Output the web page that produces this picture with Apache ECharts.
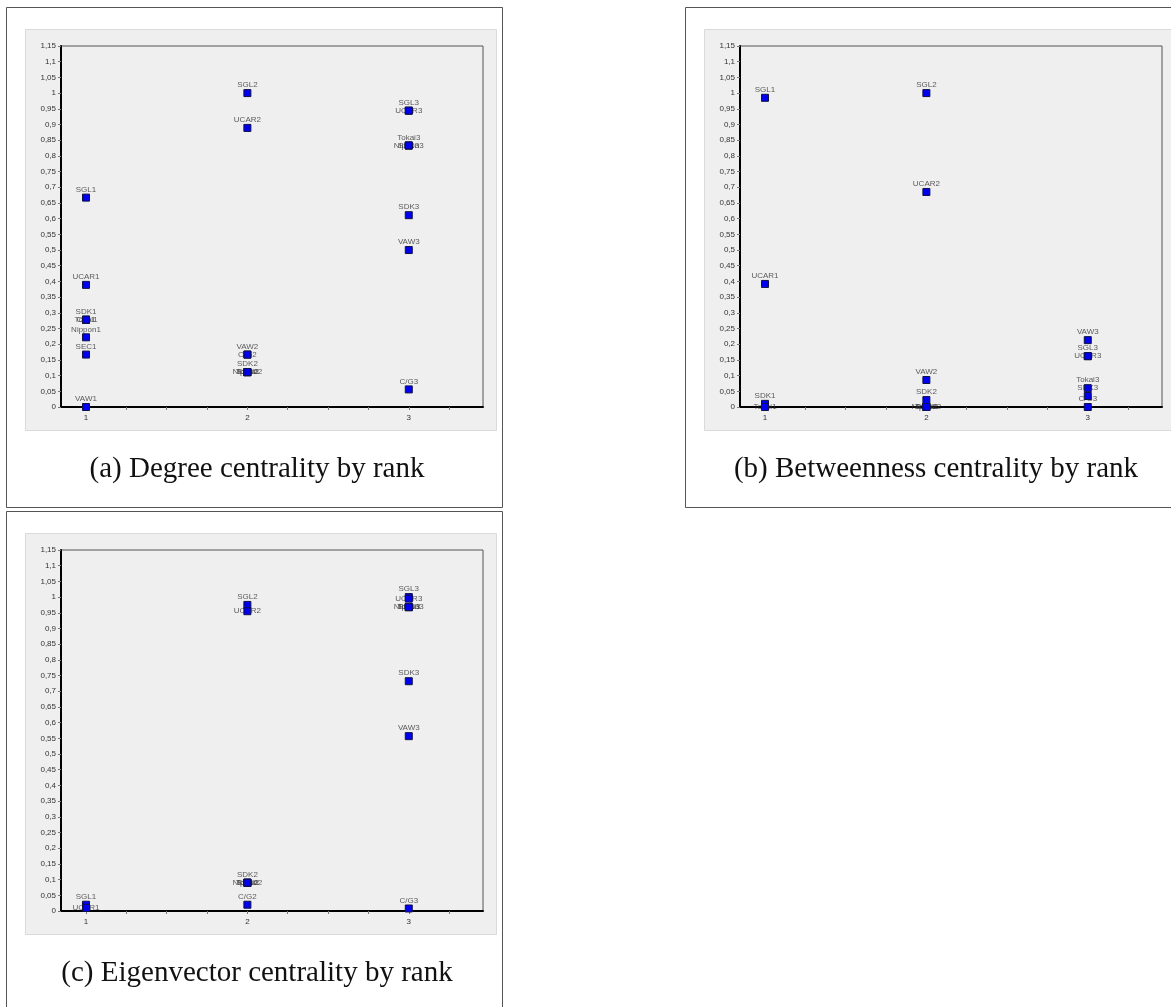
<!DOCTYPE html>
<html>
<head>
<meta charset="utf-8">
<title>Centrality by rank</title>
<script src="https://cdn.jsdelivr.net/npm/echarts@6/dist/echarts.min.js"></script>
<style>
  html, body { margin: 0; padding: 0; background: #fff; }
  #main { width: 1171px; height: 1007px; }
</style>
</head>
<body>
<div id="main"></div>
<script>
// axis ticks
var rankLabels = [1, 2, 3];
var rankTicks = [1, 1.25, 1.5, 1.75, 2, 2.25, 2.5, 2.75, 3, 3.25];

// (a) degree centrality
var degreeNames1 = ['SGL1', 'UCAR1', 'SDK1', 'Tokai1', 'C/G1', 'Nippon1', 'SEC1', 'VAW1'];
var degreeValues1 = [0.667, 0.389, 0.278, 0.278, 0.278, 0.222, 0.167, 0];
var degreeNames2 = ['SGL2', 'UCAR2', 'VAW2', 'C/G2', 'SDK2', 'Nippon2', 'Tokai2', 'SEC2'];
var degreeValues2 = [1, 0.889, 0.167, 0.167, 0.111, 0.111, 0.111, 0.111];
var degreeNames3 = ['SGL3', 'UCAR3', 'Tokai3', 'Nippon3', 'SEC3', 'SDK3', 'VAW3', 'C/G3'];
var degreeValues3 = [0.944, 0.944, 0.833, 0.833, 0.833, 0.611, 0.5, 0.056];

// (b) betweenness centrality
var betweenNames1 = ['SGL1', 'UCAR1', 'SDK1', 'Tokai1'];
var betweenValues1 = [0.985, 0.392, 0.01, 0];
var betweenNames2 = ['SGL2', 'UCAR2', 'VAW2', 'SDK2', 'Nippon2', 'Tokai2', 'SEC2'];
var betweenValues2 = [1, 0.685, 0.086, 0.022, 0, 0, 0];
var betweenNames3 = ['VAW3', 'SGL3', 'UCAR3', 'Tokai3', 'SDK3', 'C/G3'];
var betweenValues3 = [0.213, 0.162, 0.162, 0.06, 0.035, 0];

// (c) eigenvector centrality
var eigenNames1 = ['SGL1', 'UCAR1'];
var eigenValues1 = [0.02, 0.01];
var eigenNames2 = ['SGL2', 'UCAR2', 'SDK2', 'Nippon2', 'Tokai2', 'SEC2', 'C/G2'];
var eigenValues2 = [0.975, 0.955, 0.09, 0.09, 0.09, 0.09, 0.02];
var eigenNames3 = ['SGL3', 'UCAR3', 'Tokai3', 'Nippon3', 'SEC3', 'SDK3', 'VAW3', 'C/G3'];
var eigenValues3 = [1, 0.995, 0.968, 0.968, 0.968, 0.732, 0.557, 0.008];

var captions = [
    '(a) Degree centrality by rank',
    '(b) Betweenness centrality by rank',
    '(c) Eigenvector centrality by rank'
];

// label goes above the square, unless it would sit on a label already placed
function buildPoints(rank, names, values) {
    var order = values.map(function (v, i) { return i; });
    order.sort(function (a, b) { return values[b] - values[a]; });
    var placed = [];
    return order.map(function (i) {
        var v = values[i];
        var pos = 'top';
        var ly = v + 0.0255;
        var hit = placed.some(function (p) { return Math.abs(p - ly) < 0.024; });
        if (hit) { pos = 'inside'; ly = v; }
        placed.push(ly);
        return { value: [rank, v], name: names[i], label: { position: pos } };
    });
}

var panels = [
    { dx: 0, dy: 0, ranks: [[degreeNames1, degreeValues1], [degreeNames2, degreeValues2], [degreeNames3, degreeValues3]] },
    { dx: 679, dy: 0, ranks: [[betweenNames1, betweenValues1], [betweenNames2, betweenValues2], [betweenNames3, betweenValues3]] },
    { dx: 0, dy: 504, ranks: [[eigenNames1, eigenValues1], [eigenNames2, eigenValues2], [eigenNames3, eigenValues3]] }
];

var chart = echarts.init(document.getElementById('main'));

var grids = [], xAxes = [], yAxes = [], series = [], graphics = [];

panels.forEach(function (p, k) {
    // white box + grey chart background + caption
    graphics.push({
        type: 'rect', z: -20, silent: true,
        shape: { x: 6.5 + p.dx, y: 7.5 + p.dy, width: 496, height: 500 },
        style: { fill: '#fff', stroke: '#555', lineWidth: 1 }
    });
    graphics.push({
        type: 'rect', z: -19, silent: true,
        shape: { x: 25.5 + p.dx, y: 29.5 + p.dy, width: 471, height: 401 },
        style: { fill: '#efefef', stroke: '#dadada', lineWidth: 1 }
    });
    graphics.push({
        type: 'text', silent: true,
        x: 257 + p.dx, y: 469 + p.dy,
        style: {
            text: captions[k],
            fontFamily: 'Liberation Serif',
            fontSize: 29,
            fill: '#111',
            align: 'center',
            verticalAlign: 'middle'
        }
    });

    grids.push({
        left: 61 + p.dx, top: 46 + p.dy, width: 422, height: 361,
        show: true, backgroundColor: '#efefef', borderColor: '#555', borderWidth: 1
    });
    xAxes.push({
        gridIndex: k, type: 'value', min: 0.845, max: 3.46,
        axisLine: { onZero: false, lineStyle: { color: '#000', width: 2 } },
        axisTick: { show: true, length: 3, customValues: rankTicks, lineStyle: { color: '#777' } },
        axisLabel: { customValues: rankLabels, color: '#333', fontSize: 8, fontFamily: 'Liberation Sans', margin: 7 },
        splitLine: { show: false }
    });
    yAxes.push({
        gridIndex: k, type: 'value', min: 0, max: 1.15, interval: 0.05,
        axisLine: { show: true, onZero: false, lineStyle: { color: '#000', width: 2 } },
        axisTick: { show: true, length: 3, lineStyle: { color: '#777' } },
        axisLabel: {
            color: '#333', fontSize: 8, fontFamily: 'Liberation Sans', margin: 5,
            formatter: function (v) { return String(Math.round(v * 100) / 100).replace('.', ','); }
        },
        splitLine: { show: false }
    });

    var pts = [];
    p.ranks.forEach(function (r, j) {
        pts = pts.concat(buildPoints(rankLabels[j], r[0], r[1]));
    });

    // labels first (under the squares)
    series.push({
        type: 'scatter', xAxisIndex: k, yAxisIndex: k, z: 2, silent: true,
        symbol: 'rect', symbolSize: 7,
        itemStyle: { color: 'rgba(0,0,0,0)' },
        label: {
            show: true, formatter: '{b}', distance: 0,
            color: '#333', fontSize: 8, fontFamily: 'Liberation Sans', lineHeight: 9
        },
        data: pts
    });
    // blue squares
    series.push({
        type: 'scatter', xAxisIndex: k, yAxisIndex: k, z: 3, silent: true,
        symbol: 'rect', symbolSize: 7,
        itemStyle: { color: '#0000ee', borderColor: '#10104a', borderWidth: 1, opacity: 1 },
        label: { show: false },
        data: pts.map(function (d) { return d.value; })
    });
});

var option = {
    animation: false,
    backgroundColor: '#fff',
    grid: grids,
    xAxis: xAxes,
    yAxis: yAxes,
    series: series,
    graphic: graphics
};

chart.setOption(option);

window.onresize = function () {
    chart.resize();
};
</script>
</body>
</html>
